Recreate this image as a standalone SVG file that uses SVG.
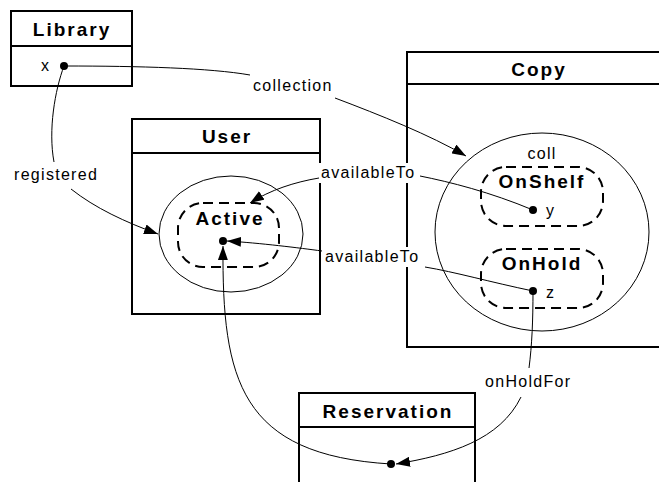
<svg xmlns="http://www.w3.org/2000/svg" width="659" height="482" viewBox="0 0 659 482">
<style>
.box{fill:#fff;stroke:#000;stroke-width:2}
.hdr{fill:none;stroke:#000;stroke-width:2}
.ell{fill:none;stroke:#000;stroke-width:1}
.dash{fill:none;stroke:#000;stroke-width:2;stroke-dasharray:10,6}
.t{font-family:"Liberation Sans",Arial,sans-serif;font-size:16px;letter-spacing:1.3px;fill:#000}
.b{font-family:"Liberation Sans",Arial,sans-serif;font-size:19px;font-weight:bold;letter-spacing:2px;fill:#000}
.c{fill:none;stroke:#000;stroke-width:1}
.a{marker-end:url(#arr)}
.dot{fill:#000}
.bg{fill:#fff}
</style>
<defs>
<marker id="arr" viewBox="0 0 14 10" refX="14" refY="5" markerWidth="14" markerHeight="10" markerUnits="userSpaceOnUse" orient="auto">
<path d="M0,0 L14,5 L0,10 z" fill="#000"/>
</marker>
</defs>
<rect width="659" height="482" fill="#fff"/>
<g id="library">
<rect class="box" x="11" y="11" width="121" height="75"/>
<line class="hdr" x1="11" y1="46" x2="132" y2="46"/>
<text class="b" x="72" y="36" text-anchor="middle">Library</text>
<text class="t" x="41" y="71">x</text>
<circle class="dot" cx="64" cy="66" r="4"/>
</g>
<g id="user">
<rect class="box" x="132" y="119" width="188" height="195"/>
<line class="hdr" x1="132" y1="153" x2="320" y2="153"/>
<text class="b" x="227" y="143" text-anchor="middle">User</text>
<ellipse class="ell" cx="231" cy="234" rx="72" ry="58"/>
<g id="active">
<rect class="dash" x="178" y="203" width="101" height="64" rx="25" ry="25"/>
<text class="b" x="230" y="225" text-anchor="middle">Active</text>
<circle class="dot" cx="223" cy="241" r="4"/>
</g>
</g>
<g id="copy">
<rect class="box" x="407" y="52" width="270" height="295"/>
<line class="hdr" x1="407" y1="84" x2="677" y2="84"/>
<text class="b" x="539" y="76" text-anchor="middle">Copy</text>
<ellipse class="ell" cx="542" cy="232" rx="107" ry="99"/>
<text class="t" x="542" y="159" text-anchor="middle">coll</text>
<g id="onshelf">
<rect class="dash" x="481" y="167" width="122" height="59" rx="25" ry="25"/>
<text class="b" x="542" y="188" text-anchor="middle">OnShelf</text>
<circle class="dot" cx="533" cy="210" r="4"/>
<text class="t" x="546" y="216">y</text>
</g>
<g id="onhold">
<rect class="dash" x="481" y="249" width="122" height="59" rx="25" ry="25"/>
<text class="b" x="542" y="270" text-anchor="middle">OnHold</text>
<circle class="dot" cx="533" cy="291" r="4"/>
<text class="t" x="546" y="298">z</text>
</g>
</g>
<g id="reservation">
<rect class="box" x="299" y="393" width="176" height="100"/>
<line class="hdr" x1="299" y1="427" x2="475" y2="427"/>
<text class="b" x="388" y="418" text-anchor="middle">Reservation</text>
<circle class="dot" cx="391" cy="464" r="4"/>
</g>
<g id="connectors">
<path class="c" d="M64,66 C140,66 210,68 250,75"/>
<path class="c a" d="M335,98 C380,115 430,135 466,156"/>
<rect class="bg" x="251" y="77" width="84" height="19"/>
<text class="t" x="253" y="91">collection</text>
<path class="c" d="M64,66 C55,90 48,130 54,162"/>
<path class="c a" d="M71,189 C95,208 125,222 158,234"/>
<rect class="bg" x="12" y="165" width="88" height="21"/>
<text class="t" x="14" y="180">registered</text>
<path class="c" d="M533,210 C490,192 450,182 420,176"/>
<path class="c a" d="M319,178 C295,182 270,190 250,203"/>
<rect class="bg" x="319" y="163" width="100" height="20"/>
<text class="t" x="321" y="178">availableTo</text>
<path class="c" d="M533,291 C490,282 455,272 425,267"/>
<path class="c a" d="M322,251 C300,248 260,243 227,241"/>
<rect class="bg" x="323" y="247" width="100" height="20"/>
<text class="t" x="325" y="262">availableTo</text>
<path class="c" d="M533,291 C533,320 532,345 529,368"/>
<path class="c a" d="M521,397 C500,440 450,455 396,464"/>
<rect class="bg" x="483" y="372" width="92" height="20"/>
<text class="t" x="485" y="387">onHoldFor</text>
<path class="c a" d="M391,464 C240,455 222,380 223,246"/>
</g>
</svg>
